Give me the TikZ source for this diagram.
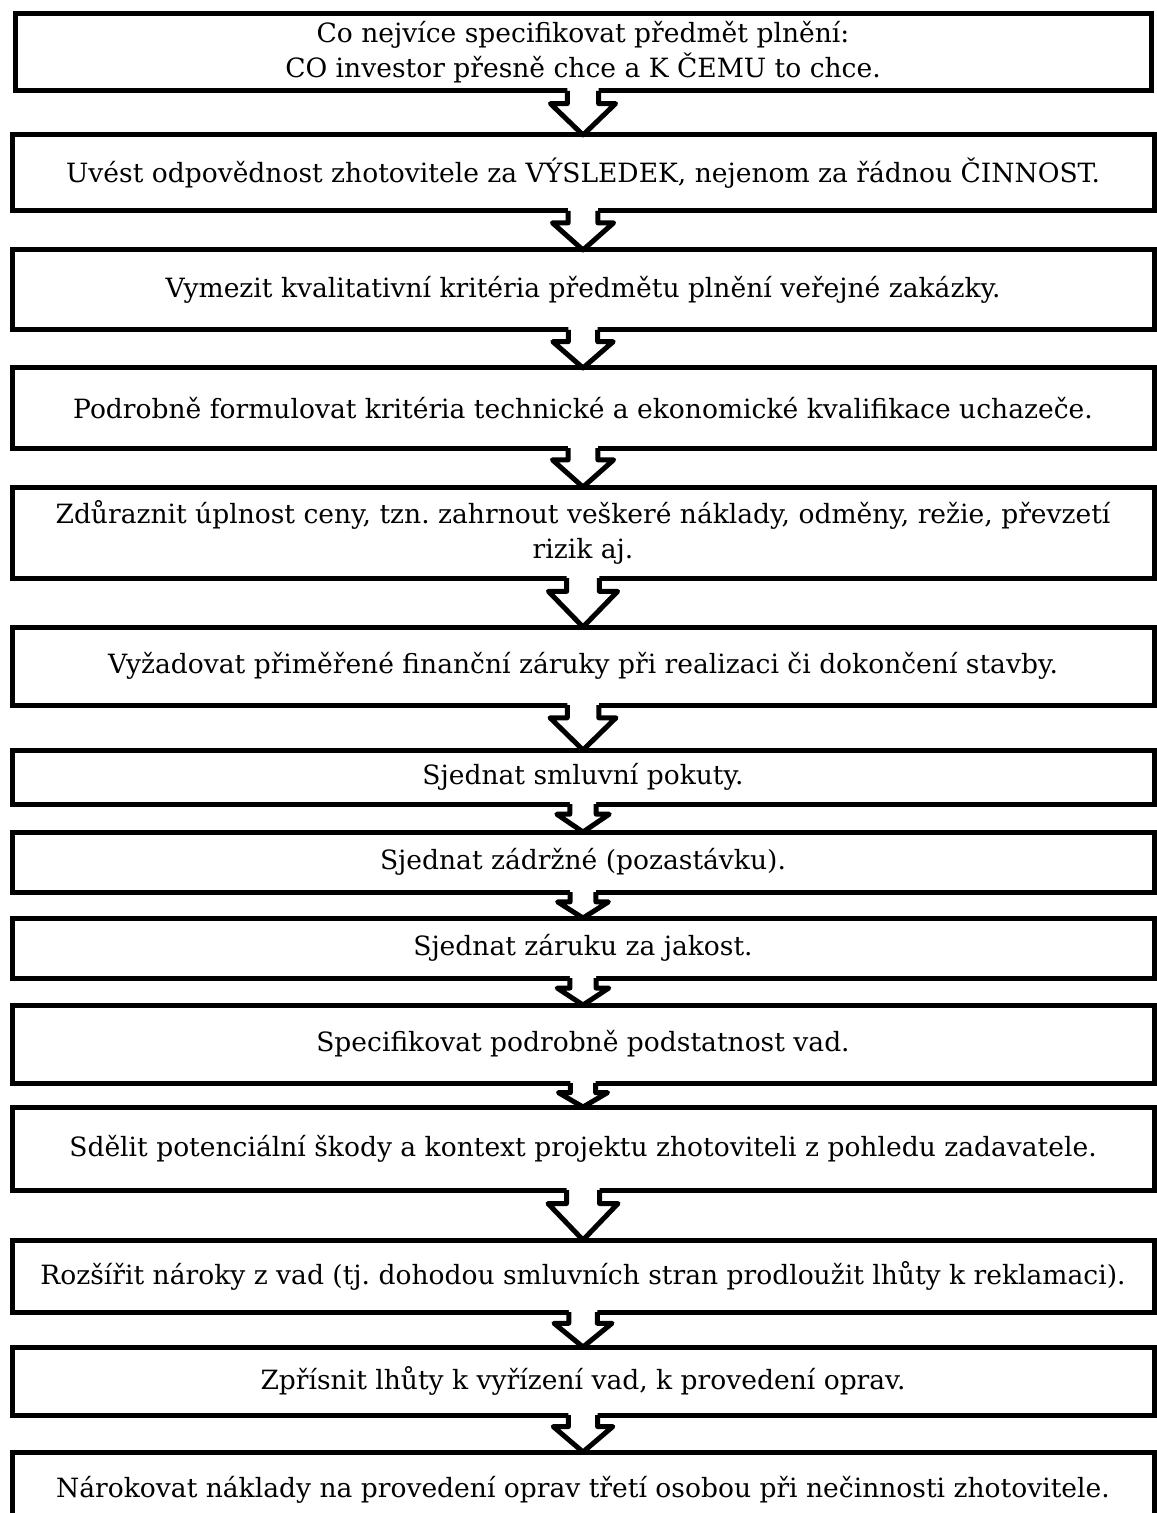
\documentclass[tikz,border=0pt]{standalone}
\usepackage{fontspec}
\setmainfont{DejaVu Serif}
\frenchspacing
\usetikzlibrary{calc}

\begin{document}
\begin{tikzpicture}[scale=1]
	\tikzset{block/.style={rectangle, draw, line width=0.1cm, minimum width=22.84cm, inner xsep=0cm, outer sep=0cm, align=center, font=\fontsize{15.1}{19.9}\selectfont}};
	\tikzset{first/.style={block, minimum width=22.72cm}};
	\tikzset{arrowfill/.style={fill=white}};
	\tikzset{arrowline/.style={draw, line width=0.1cm, line join=round}};
	\useasboundingbox (0cm,0cm) rectangle (23.12cm,-30.26cm);
	% Place nodes
	\node [first, minimum height=1.54cm] (spec) at (11.66cm,-1.05cm) {Co nejvíce specifikovat předmět plnění:\\CO investor přesně chce a K ČEMU to chce.};
	\node [block, minimum height=1.52cm] (vysledek) at (11.66cm,-3.46cm) {Uvést odpovědnost zhotovitele za VÝSLEDEK, nejenom za řádnou ČINNOST.};
	\node [block, minimum height=1.60cm] (kvalita) at (11.66cm,-5.80cm) {Vymezit kvalitativní kritéria předmětu plnění veřejné zakázky.};
	\node [block, minimum height=1.60cm] (kvalif) at (11.66cm,-8.16cm) {Podrobně formulovat kritéria technické a ekonomické kvalifikace uchazeče.};
	\node [block, minimum height=1.82cm] (cena) at (11.66cm,-10.65cm) {Zdůraznit úplnost ceny, tzn. zahrnout veškeré náklady, odměny, režie, převzetí\\rizik aj.};
	\node [block, minimum height=1.56cm] (zaruky) at (11.66cm,-13.32cm) {Vyžadovat přiměřené finanční záruky při realizaci či dokončení stavby.};
	\node [block, minimum height=1.08cm] (pokuty) at (11.66cm,-15.54cm) {Sjednat smluvní pokuty.};
	\node [block, minimum height=1.20cm] (zadrzne) at (11.66cm,-17.24cm) {Sjednat zádržné (pozastávku).};
	\node [block, minimum height=1.20cm] (jakost) at (11.66cm,-18.96cm) {Sjednat záruku za jakost.};
	\node [block, minimum height=1.56cm] (vady) at (11.66cm,-20.88cm) {Specifikovat podrobně podstatnost vad.};
	\node [block, minimum height=1.66cm] (skody) at (11.66cm,-22.97cm) {Sdělit potenciální škody a kontext projektu zhotoviteli z pohledu zadavatele.};
	\node [block, minimum height=1.44cm] (naroky) at (11.66cm,-25.52cm) {Rozšířit nároky z vad (tj. dohodou smluvních stran prodloužit lhůty k reklamaci).};
	\node [block, minimum height=1.36cm] (lhuty) at (11.66cm,-27.62cm) {Zpřísnit lhůty k vyřízení vad, k provedení oprav.};
	\node [block, minimum height=1.52cm] (naklady) at (11.66cm,-29.80cm) {Nárokovat náklady na provedení oprav třetí osobou při nečinnosti zhotovitele.};
	% Place arrows
	\foreach \a/\b in {spec/vysledek, vysledek/kvalita, kvalita/kvalif, kvalif/cena, cena/zaruky, zaruky/pokuty, pokuty/zadrzne, zadrzne/jakost, jakost/vady, vady/skody, skody/naroky, naroky/lhuty, lhuty/naklady}{
		\fill [arrowfill] let \p1=(\a.south), \p2=(\b.north), \n1={\y1-\y2}, \n2={0.12cm+0.15*\n1}, \n3={0.3cm+0.4*\n1}, \n4={0.18cm+0.15*\n1} in
			(\x1-\n4,\y1+0.06cm) -- (\x1-\n4,\y1-\n2) -- (\x1-\n3,\y1-\n2) -- (\x1,\y2) -- (\x1+\n3,\y1-\n2) -- (\x1+\n4,\y1-\n2) -- (\x1+\n4,\y1+0.06cm) -- cycle;
		\draw [arrowline] let \p1=(\a.south), \p2=(\b.north), \n1={\y1-\y2}, \n2={0.12cm+0.15*\n1}, \n3={0.3cm+0.4*\n1}, \n4={0.18cm+0.15*\n1} in
			(\x1-\n4,\y1) -- (\x1-\n4,\y1-\n2) -- (\x1-\n3,\y1-\n2) -- (\x1,\y2) -- (\x1+\n3,\y1-\n2) -- (\x1+\n4,\y1-\n2) -- (\x1+\n4,\y1);
	}
\end{tikzpicture}
\end{document}
